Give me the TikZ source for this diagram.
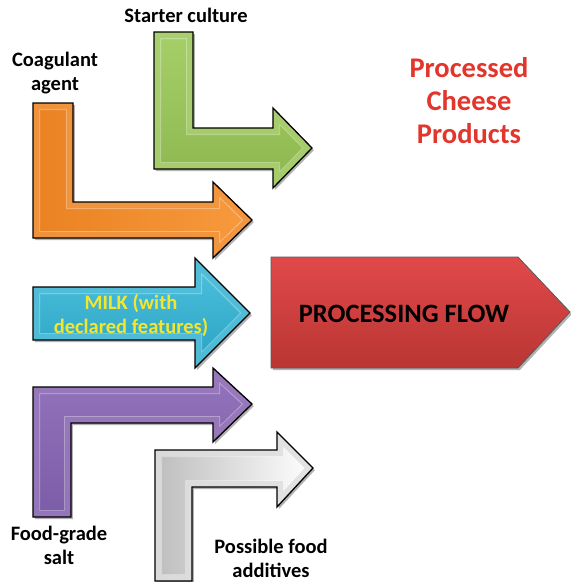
\documentclass[tikz,border=0pt]{standalone}
\usepackage{fontspec}
\setmainfont{Carlito}
\begin{document}
\definecolor{grnT}{HTML}{A6CF68}\definecolor{grnB}{HTML}{8DB74E}\definecolor{grnM}{HTML}{A2CB63}
\definecolor{orgL}{HTML}{EA8222}\definecolor{orgR}{HTML}{F79A3E}\definecolor{orgM}{HTML}{F08C30}
\definecolor{cyaT}{HTML}{4FC3DF}\definecolor{cyaB}{HTML}{2AA1C2}\definecolor{cyaM}{HTML}{44B8D6}
\definecolor{redT}{HTML}{E1494A}\definecolor{redB}{HTML}{B93633}
\definecolor{purT}{HTML}{9474BC}\definecolor{purB}{HTML}{7B5CA6}\definecolor{purM}{HTML}{8E6EB6}
\definecolor{gryL}{HTML}{BDBDBD}\definecolor{gryR}{HTML}{FFFFFF}\definecolor{gryM}{HTML}{DCDCDC}
\definecolor{titleRed}{HTML}{E2352C}
\definecolor{milkYellow}{HTML}{F4E62E}
\tikzset{
  arrowedge/.style={draw=black, line width=1.3pt, line join=miter},
  caption/.style={font=\bfseries\fontsize{20.5}{24}\selectfont, align=center, inner sep=0pt, anchor=base},
}
% a bevelled, shaded arrow shape: #1 shading options, #2 bevel colour, #3 closed path
\newcommand\bevelarrow[3]{%
  \fill[black, opacity=0.3, xshift=1.8pt, yshift=-2.2pt] #3;
  \shade[#1] #3;
  \begin{scope}
    \clip #3;
    \draw[white, opacity=0.35, line width=14pt, line join=miter] #3;
    \draw[#2, opacity=0.8, line width=12pt, line join=miter] #3;
  \end{scope}
  \draw[arrowedge] #3;
}
\begin{tikzpicture}[x=1pt, y=-1pt]
\useasboundingbox (0,0) rectangle (571,582);

% starter culture arrow (green)
\bevelarrow{top color=grnT, bottom color=grnB}{grnM}{(154,32) -- (193,32) -- (193,128) -- (273,128) -- (273,108) -- (312,148) -- (273,188) -- (273,169) -- (154,169) -- cycle}
% coagulant arrow (orange)
\bevelarrow{left color=orgL, right color=orgR}{orgM}{(33,103) -- (73,103) -- (73,202) -- (213,202) -- (213,182) -- (252,220) -- (213,258) -- (213,238) -- (33,238) -- cycle}
% milk arrow (blue)
\bevelarrow{top color=cyaT, bottom color=cyaB}{cyaM}{(33,287) -- (195,287) -- (195,258) -- (250,313) -- (195,368) -- (195,340) -- (33,340) -- cycle}
% processing flow (red pentagon, plain)
\fill[black, opacity=0.3, xshift=1.8pt, yshift=-2.2pt] (271,257) -- (518,257) -- (570,312) -- (518,368) -- (271,368) -- cycle;
\shade[top color=redT, bottom color=redB, draw=black!65, line width=0.8pt] (271,257) -- (518,257) -- (570,312) -- (518,368) -- (271,368) -- cycle;
% salt arrow (purple)
\bevelarrow{top color=purT, bottom color=purB}{purM}{(33,387) -- (213,387) -- (213,368) -- (252,404) -- (213,442) -- (213,423) -- (71,423) -- (71,517) -- (33,517) -- cycle}
% additives arrow (silver)
\bevelarrow{left color=gryL, right color=gryR}{gryM}{(155,450) -- (277,450) -- (277,432) -- (313,468) -- (277,507) -- (277,487) -- (192,487) -- (192,581) -- (155,581) -- cycle}

% multi-line captions are placed by the baseline of their last line
\node[caption] (starter) at (186,22) {Starter culture};
\node[caption] (coag) at (55,90) {Coagulant\\agent};
\node[caption, text=titleRed, font=\bfseries\fontsize{28.5}{33}\selectfont] (title) at (469,143) {Processed\\Cheese\\Products};
\node[caption, text=milkYellow] (milk) at (131,333) {MILK (with\\declared features)};
\node[caption, font=\bfseries\fontsize{26.5}{30}\selectfont] (flow) at (404,322) {PROCESSING FLOW};
\node[caption] (salt) at (59,564) {Food-grade\\salt};
\node[caption] (addit) at (271,577) {Possible food\\additives};
\end{tikzpicture}
\end{document}
